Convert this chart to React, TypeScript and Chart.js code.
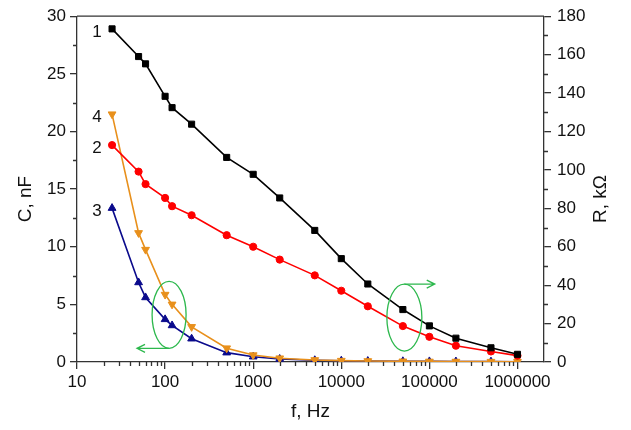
import React, { useEffect, useRef } from "react";
import { Chart, registerables } from "chart.js";

Chart.register(...registerables);

// ---- data ----
const frequencies = [25, 50, 60, 100, 120, 200, 500, 1000, 2000, 5000, 10000, 20000, 50000, 100000, 200000, 500000, 1000000];
// R, kOhm (right axis)
const series1R = [173.4, 159, 155.2, 138.3, 132.4, 123.8, 106.5, 97.7, 85.4, 68.5, 53.8, 40.6, 27.3, 18.8, 12.4, 7.4, 4.0];
const series2R = [112.9, 99.1, 92.6, 85.4, 81.1, 76.4, 66.0, 60.0, 53.3, 45.1, 37.1, 29.0, 18.7, 13.1, 8.5, 5.5, 3.3];
// C, nF (left axis)
const series3C = [13.35, 6.9, 5.6, 3.7, 3.17, 2.02, 0.81, 0.46, 0.26, 0.15, 0.11, 0.08, 0.06, 0.05, 0.04, 0.03, 0.02];
const series4C = [21.5, 11.2, 9.75, 5.85, 5.0, 3.05, 1.2, 0.6, 0.33, 0.18, 0.12, 0.09, 0.06, 0.05, 0.04, 0.03, 0.02];

const xTickValues = [10, 100, 1000, 10000, 100000, 1000000];
const leftMinorTicks = [2.5, 7.5, 12.5, 17.5, 22.5, 27.5];
const rightMinorTicks = [10, 30, 50, 70, 90, 110, 130, 150, 170];
const seriesNames = ["1", "2", "4", "3"];

// annotation anchors (data coordinates)
const ellipseC = { f: 111, v: 4.09, arrowTo: 48 };
const ellipseR = { f: 52000, v: 23.1, arrowTo: 115000 };

const FONT = '"Liberation Sans", Arial, sans-serif';
const AXIS = "#333333";
const GREEN = "#2db84d";

const decorPlugin = {
  id: "decor",
  afterDraw(chart: any) {
    const { ctx, chartArea: a, scales } = chart;
    const x = scales.x;
    const yl = scales.yC;
    const yr = scales.yR;
    ctx.save();
    ctx.strokeStyle = AXIS;
    ctx.lineWidth = 1.3;
    // top frame line
    ctx.beginPath();
    ctx.moveTo(a.left, a.top);
    ctx.lineTo(a.right, a.top);
    ctx.stroke();
    // minor ticks
    ctx.beginPath();
    for (let d = 10; d <= 1000000; d *= 10) {
      for (let m = 2; m <= 9; m++) {
        const v = d * m;
        if (v >= x.max) continue;
        const px = Math.round(x.getPixelForValue(v)) + 0.5;
        ctx.moveTo(px, a.bottom);
        ctx.lineTo(px, a.bottom + 4);
      }
    }
    leftMinorTicks.forEach((v) => {
      const py = Math.round(yl.getPixelForValue(v)) + 0.5;
      ctx.moveTo(a.left, py);
      ctx.lineTo(a.left - 4, py);
    });
    rightMinorTicks.forEach((v) => {
      const py = Math.round(yr.getPixelForValue(v)) + 0.5;
      ctx.moveTo(a.right, py);
      ctx.lineTo(a.right + 4, py);
    });
    ctx.stroke();

    // series number labels near first points
    ctx.fillStyle = "#111";
    ctx.font = `17px ${FONT}`;
    ctx.textAlign = "center";
    ctx.textBaseline = "middle";
    chart.data.datasets.forEach((ds: any, i: number) => {
      const meta = chart.getDatasetMeta(i);
      const p = meta.data[0];
      if (!p) return;
      ctx.fillText(ds.seriesName, p.x - 15, p.y + 3);
    });

    // axis titles
    ctx.font = `19px ${FONT}`;
    ctx.fillText("f, Hz", (a.left + a.right) / 2, 412);
    ctx.save();
    ctx.translate(26, 199);
    ctx.rotate(-Math.PI / 2);
    ctx.fillText("C, nF", 0, 0);
    ctx.restore();
    ctx.save();
    ctx.translate(601, 199);
    ctx.rotate(-Math.PI / 2);
    ctx.fillText("R, k\u03A9", 0, 0);
    ctx.restore();

    // green ellipses with arrows
    ctx.strokeStyle = GREEN;
    ctx.lineWidth = 1.3;
    const drawArrow = (x0: number, y0: number, x1: number) => {
      const dir = x1 > x0 ? 1 : -1;
      ctx.beginPath();
      ctx.moveTo(x0, y0);
      ctx.lineTo(x1, y0);
      ctx.moveTo(x1 - dir * 8, y0 - 4);
      ctx.lineTo(x1, y0);
      ctx.lineTo(x1 - dir * 8, y0 + 4);
      ctx.stroke();
    };
    {
      const cx = x.getPixelForValue(ellipseC.f);
      const cy = yl.getPixelForValue(ellipseC.v);
      ctx.beginPath();
      ctx.ellipse(cx, cy, 17, 33.5, 0, 0, Math.PI * 2);
      ctx.stroke();
      drawArrow(cx, cy + 33.5, x.getPixelForValue(ellipseC.arrowTo));
    }
    {
      const cx = x.getPixelForValue(ellipseR.f);
      const cy = yr.getPixelForValue(ellipseR.v);
      ctx.beginPath();
      ctx.ellipse(cx, cy, 17.5, 33.5, 0, 0, Math.PI * 2);
      ctx.stroke();
      drawArrow(cx, cy - 33.5, x.getPixelForValue(ellipseR.arrowTo));
    }
    ctx.restore();
  },
};

function pts(vals: number[]) {
  return frequencies.map((f, i) => ({ x: f, y: vals[i] }));
}

export default function App() {
  const ref = useRef<HTMLCanvasElement | null>(null);
  useEffect(() => {
    document.body.style.margin = "0";
    if (!ref.current) return;
    const tickFont = { family: FONT, size: 17 };
    const gridOpts = {
      display: true,
      drawOnChartArea: false,
      drawTicks: true,
      tickLength: 7,
      lineWidth: 1.3,
      color: AXIS,
    };
    const chart = new Chart(ref.current, {
      type: "line",
      data: {
        datasets: [
          {
            seriesName: seriesNames[0],
            data: pts(series1R),
            yAxisID: "yR",
            borderColor: "#000",
            backgroundColor: "#000",
            borderWidth: 1.6,
            pointStyle: "rect",
            pointRadius: 4.3,
            pointBorderWidth: 1,
          },
          {
            seriesName: seriesNames[1],
            data: pts(series2R),
            yAxisID: "yR",
            borderColor: "#ff0000",
            backgroundColor: "#ff0000",
            borderWidth: 1.6,
            pointStyle: "circle",
            pointRadius: 3.6,
            pointBorderWidth: 1,
          },
          {
            seriesName: seriesNames[2],
            data: pts(series4C),
            yAxisID: "yC",
            borderColor: "#e8901c",
            backgroundColor: "#e8901c",
            borderWidth: 1.6,
            pointStyle: "triangle",
            pointRotation: 180,
            pointRadius: 4.5,
            pointBorderWidth: 1,
          },
          {
            seriesName: seriesNames[3],
            data: pts(series3C),
            yAxisID: "yC",
            borderColor: "#0a0a8c",
            backgroundColor: "#0a0a8c",
            borderWidth: 1.6,
            pointStyle: "triangle",
            pointRadius: 4.5,
            pointBorderWidth: 1,
          },
        ] as any,
      },
      options: {
        animation: false,
        responsive: false,
        layout: { padding: { top: 15, left: 0, right: 0, bottom: 0 } },
        plugins: { legend: { display: false }, tooltip: { enabled: false } },
        scales: {
          x: {
            type: "logarithmic",
            position: "bottom",
            min: 10,
            max: 2000000,
            afterFit: (s: any) => {
              s.height = 68;
            },
            afterBuildTicks: (s: any) => {
              s.ticks = xTickValues.map((v) => ({ value: v, major: true }));
            },
            ticks: {
              autoSkip: false,
              maxRotation: 0,
              font: tickFont,
              color: "#111",
              padding: 3,
              callback: (v: any) => String(v),
            },
            grid: gridOpts,
            border: { display: true, color: AXIS, width: 1.3 },
          },
          yC: {
            type: "linear",
            position: "left",
            min: 0,
            max: 30,
            afterFit: (s: any) => {
              s.width = 77;
            },
            ticks: { stepSize: 5, font: tickFont, color: "#111", padding: 4 },
            grid: gridOpts,
            border: { display: true, color: AXIS, width: 1.3 },
          },
          yR: {
            type: "linear",
            position: "right",
            min: 0,
            max: 180,
            afterFit: (s: any) => {
              s.width = 87;
            },
            ticks: { stepSize: 20, font: tickFont, color: "#111", padding: 6 },
            grid: gridOpts,
            border: { display: true, color: AXIS, width: 1.3 },
          },
        },
      } as any,
      plugins: [decorPlugin],
    });
    return () => chart.destroy();
  }, []);
  return (
    <div style={{ width: 631, height: 430, background: "#fff" }}>
      <canvas ref={ref} width={631} height={430} style={{ display: "block", width: 631, height: 430 }} />
    </div>
  );
}
